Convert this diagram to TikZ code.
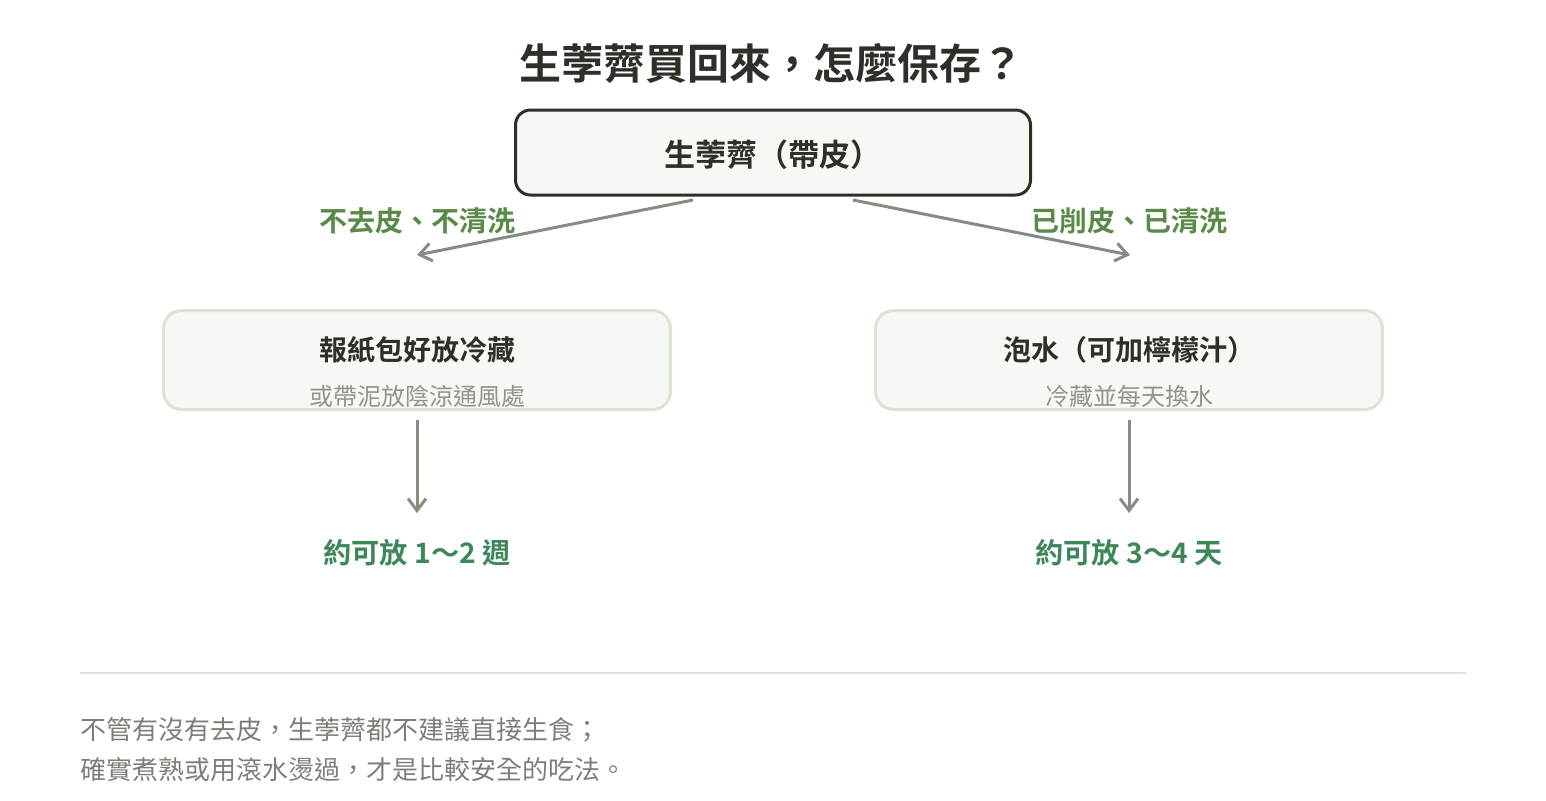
\documentclass[tikz,border=0pt]{standalone}
\usepackage{fontspec}
\setmainfont{Noto Sans CJK TC}[BoldFont={Noto Sans CJK TC Bold}]
\usetikzlibrary{arrows.meta}
\definecolor{inkdark}{HTML}{2B3128}
\definecolor{leafgreen}{HTML}{5A8A48}
\definecolor{keepgreen}{HTML}{3E875A}
\definecolor{arrowgray}{HTML}{858C82}
\definecolor{subgray}{HTML}{8F948C}
\definecolor{notegray}{HTML}{7B8077}
\definecolor{paleline}{HTML}{D9E4D4}
\definecolor{palefill}{HTML}{F6F8F3}
\begin{document}
\begin{tikzpicture}[x=0.5pt, y=-0.5pt, inner sep=0pt, outer sep=0pt,
  txt/.style={anchor=base},
  rootbox/.style={draw=inkdark, fill=palefill, line width=1.5pt, rounded corners=7.5pt,
    minimum width=257.5pt, minimum height=42.5pt},
  optbox/.style={draw=paleline, fill=palefill, line width=1.5pt, rounded corners=9pt,
    minimum width=253.5pt, minimum height=49.5pt},
  branchlbl/.style={txt, text=leafgreen, font=\fontsize{14}{16}\selectfont\bfseries},
  mainlbl/.style={txt, text=inkdark, font=\fontsize{14}{16}\selectfont\bfseries},
  sublbl/.style={txt, text=subgray, font=\fontsize{12}{14}\selectfont},
  keeplbl/.style={txt, text=keepgreen, font=\fontsize{14.1}{16}\selectfont\bfseries},
  notelbl/.style={anchor=base west, text=notegray, font=\fontsize{13}{15}\selectfont},
  flow/.style={draw=arrowgray, line width=1.5pt,
    -{Straight Barb[length=6pt, width=9pt, line width=1.5pt]}}]
\useasboundingbox (0,0) rectangle (1546,800);
\node[txt, text=inkdark, font=\fontsize{21}{24}\selectfont\bfseries] (title) at (771,79)
  {生荸薺買回來，怎麼保存？};
\node[rootbox] (root) at (773,152.5) {};
\node[txt, text=inkdark, font=\fontsize{15.5}{18}\selectfont\bfseries] (rootlbl) at (773,166)
  {生荸薺（帶皮）};
\node[optbox] (lbox) at (417,360) {};
\node[optbox] (rbox) at (1129,360) {};
\node[mainlbl] (lmain) at (417,360.5) {報紙包好放冷藏};
\node[sublbl] (lsub) at (417,405) {或帶泥放陰涼通風處};
\node[mainlbl] (rmain) at (1129,360.5) {泡水（可加檸檬汁）};
\node[sublbl] (rsub) at (1129,405) {冷藏並每天換水};
\node[branchlbl] (lbranch) at (417,231.5) {不去皮、不清洗};
\node[branchlbl] (rbranch) at (1129,231.5) {已削皮、已清洗};
\coordinate (lfrom) at (693,200);
\coordinate (lto) at (417,255);
\coordinate (rfrom) at (853,200);
\coordinate (rto) at (1130,255);
\draw[flow] (lfrom) -- (lto);
\draw[flow] (rfrom) -- (rto);
\node[keeplbl] (lkeep) at (417,563.5) {約可放 1〜2 週};
\node[keeplbl] (rkeep) at (1129,563.5) {約可放 3〜4 天};
\coordinate (ldown) at (417,420);
\coordinate (lend) at (417,513);
\coordinate (rdown) at (1129,420);
\coordinate (rend) at (1129,513);
\draw[flow] (ldown) -- (lend);
\draw[flow] (rdown) -- (rend);
\coordinate (sepl) at (80,673);
\coordinate (sepr) at (1466,673);
\draw[draw=paleline, line width=1pt] (sepl) -- (sepr);
\node[notelbl] (note1) at (80,739) {不管有沒有去皮，生荸薺都不建議直接生食；};
\node[notelbl] (note2) at (80,779) {確實煮熟或用滾水燙過，才是比較安全的吃法。};
\end{tikzpicture}
\end{document}
